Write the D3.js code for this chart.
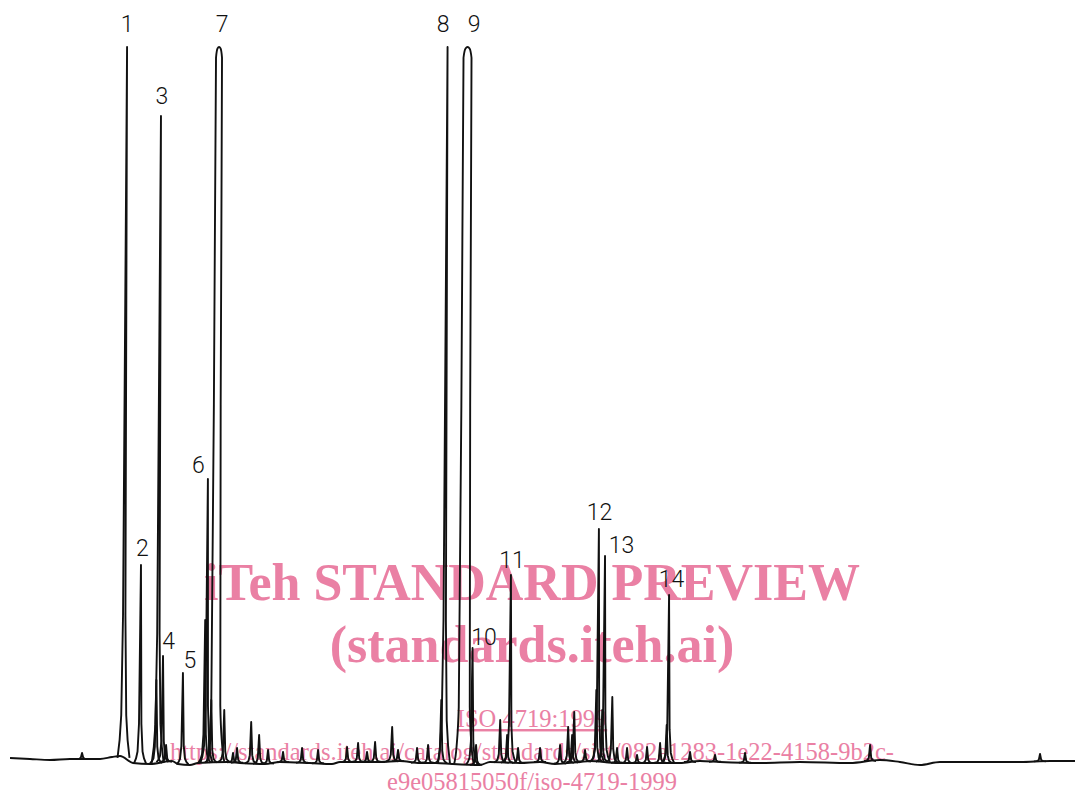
<!DOCTYPE html>
<html>
<head>
<meta charset="utf-8">
<script src="https://cdn.jsdelivr.net/npm/d3@7"></script>
<style>
  body { margin: 0; background: #fff; }
  svg { display: block; }
</style>
</head>
<body>
<svg id="chart" width="1075" height="796"></svg>
<script>
// numbered peaks: retention time (min), apex response, width at full scale (min)
var peakLabels  = ["1", "2", "3", "4", "5", "6", "7", "8", "9", "10", "11", "12", "13", "14"];
var peakTimes   = [4.94, 5.60, 6.31, 6.50, 7.30, 8.26, 8.62, 17.76, 18.56, 18.88, 20.40, 23.91, 24.16, 26.73];
var peakHeights = [71.3, 19.5, 64.4, 10.4, 8.7, 28.1, 71.3, 71.3, 71.3, 11.2, 18.5, 23.1, 20.4, 16.5];
var peakWidths  = [0, 0, 0, 0, 0, 0, 0.24, 0, 0.32, 0, 0, 0, 0, 0];

// small unnumbered peaks
var minorTimes   = [3.28, 6.24, 6.64, 8.18, 8.44, 8.96, 9.32, 9.48, 10.04, 10.36, 10.72, 11.32, 12.08, 12.72,
                    13.88, 14.32, 14.68, 15.00, 15.68, 15.92, 16.68, 17.12, 17.64, 19.04, 20.00, 20.28,
                    20.72, 21.60, 22.40, 22.72, 22.88, 22.96, 23.40, 23.84, 24.08, 24.48, 24.68, 25.08,
                    25.48, 25.88, 26.40, 26.66, 27.60, 28.60, 29.80, 34.80, 41.60];
var minorHeights = [0.7, 8.0, 1.5, 14.0, 6.0, 5.0, 0.7, 1.2, 3.8, 2.5, 1.0, 0.8, 1.2, 1.0,
                    1.3, 1.7, 0.8, 1.8, 3.3, 1.0, 1.2, 1.5, 6.0, 1.5, 4.0, 2.5,
                    1.2, 1.2, 1.5, 3.3, 2.5, 4.8, 1.0, 7.0, 5.0, 6.3, 1.2, 1.2,
                    0.5, 1.3, 1.7, 3.5, 0.8, 0.5, 0.7, 1.5, 0.6];

// baseline drift
var baseTimes  = [0.40, 1.20, 2.00, 2.80, 4.00, 4.48, 4.80, 5.32, 6.00, 6.88, 7.12, 7.60, 7.92, 9.12, 9.60,
                  10.60, 11.20, 12.40, 13.28, 13.60, 15.20, 16.00, 16.80, 17.44, 18.08, 19.20, 19.60, 20.80,
                  21.60, 22.20, 23.20, 23.60, 24.72, 25.60, 27.20, 28.00, 28.80, 30.40, 32.00, 34.00, 35.20,
                  36.00, 36.80, 37.60, 39.20, 40.80, 42.00, 43.00];
var baseLevels = [0.2, 0.1, 0.0, 0.1, 0.1, 0.3, 0.4, -0.3, -0.4, -0.1, -0.4, -0.5, -0.3, -0.2, -0.3,
                  -0.4, -0.2, -0.3, -0.4, -0.2, -0.2, -0.1, -0.3, -0.3, -0.4, -0.5, -0.2, -0.3,
                  -0.2, -0.4, -0.2, -0.1, -0.3, -0.3, -0.3, -0.1, -0.2, -0.3, -0.2, -0.3, 0.0,
                  -0.2, -0.5, -0.2, -0.2, -0.2, -0.1, -0.1];

var watermarkLines = ["iTeh STANDARD PREVIEW", "(standards.iteh.ai)", "ISO 4719:1999",
                      "https://standards.iteh.ai/catalog/standards/sist/082a1283-1e22-4158-9b2c-",
                      "e9e05815050f/iso-4719-1999"];

// ---- layout ----
var width = 1075, height = 796;
var lean = 0.005;          // recorder pen arc
var ink = "#111";
var pink = "#ea80a4";

// label offsets from peak apex, px
var labelOffset = {
  "1": [0, -15], "2": [1.5, -9], "3": [1, -12], "4": [5.5, -7], "5": [7, -5],
  "6": [-9.5, -6], "7": [3, -15], "8": [-4.5, -15], "9": [6.5, -15], "10": [11.5, -3],
  "11": [1, -7], "12": [0.5, -9], "13": [16.5, -3], "14": [2.5, -8]
};

var svg = d3.select("#chart");
svg.append("rect").attr("width", width).attr("height", height).attr("fill", "#fff");

var x = d3.scaleLinear().domain([0, 43]).range([0, width]);
var y = d3.scaleLinear().domain([0, 76]).range([760, 0]);
var baseAt = d3.scaleLinear().domain(baseTimes).range(baseLevels).clamp(true);

// watermark (under the trace)
var wm = svg.append("g")
  .attr("fill", pink)
  .attr("text-anchor", "middle")
  .attr("font-family", "'Liberation Serif', 'Times New Roman', serif");
var wmY = [600, 662, 727, 760, 790];
var wmSize = [52, 52, 24.5, 24.5, 24.5];
wm.selectAll("text")
  .data(watermarkLines)
  .enter().append("text")
  .attr("x", 532)
  .attr("y", function (d, i) { return wmY[i]; })
  .attr("font-size", function (d, i) { return wmSize[i]; })
  .attr("font-weight", function (d, i) { return i < 2 ? "bold" : "normal"; })
  .attr("text-decoration", function (d, i) { return i === 2 ? "underline" : null; })
  .text(function (d) { return d; });

var trace = svg.append("g")
  .attr("transform", "translate(" + (lean * 760) + ",0) skewX(" + (-Math.atan(lean) * 180 / Math.PI) + ")")
  .attr("fill", "none")
  .attr("stroke", ink)
  .attr("stroke-width", 1.9)
  .attr("stroke-linejoin", "round");

// baseline
var baseLine = d3.line()
  .x(function (d) { return x(d[0]); })
  .y(function (d) { return y(d[1]); })
  .curve(d3.curveMonotoneX);
trace.append("path").attr("d", baseLine(d3.zip(baseTimes, baseLevels)));

// peak outline
var spikeDx = [-6, -4, -2.5, -1.2, -0.45, 0, 0.45, 1.2, 2.5, 4, 6];
var spikeF  = [0, 0.025, 0.06, 0.2, 0.7, 1, 0.7, 0.2, 0.06, 0.025, 0];
var pxLine = d3.line().x(function (d) { return d[0]; }).y(function (d) { return d[1]; });
var roundLine = d3.line().x(function (d) { return d[0]; }).y(function (d) { return d[1]; }).curve(d3.curveMonotoneX);

function peakPath(t, h, w) {
  var cx = x(t), b = baseAt(t);
  if (!w) {
    return pxLine(spikeDx.map(function (dx, i) {
      return [cx + dx, y(b + spikeF[i] * (h - b))];
    }));
  }
  var W = (x(t + w / 2) - x(t - w / 2)) / 2;
  var dxs = [-W - 6, -W - 3.5, -W - 1.5, -W - 0.4, -W, -W * 0.5, 0, W * 0.5, W, W + 0.4, W + 1.5, W + 3.5, W + 6];
  var fs  = [0, 0.025, 0.08, 0.5, 0.985, 0.998, 1, 0.998, 0.985, 0.5, 0.08, 0.025, 0];
  return roundLine(dxs.map(function (dx, i) { return [cx + dx, y(b + fs[i] * (h - b))]; }));
}

trace.selectAll("path.minor")
  .data(d3.zip(minorTimes, minorHeights))
  .enter().append("path")
  .attr("class", "minor")
  .attr("d", function (d) { return peakPath(d[0], d[1], 0); });

trace.selectAll("path.peak")
  .data(d3.zip(peakTimes, peakHeights, peakWidths))
  .enter().append("path")
  .attr("class", "peak")
  .attr("d", function (d) { return peakPath(d[0], d[1], d[2]); });

// peak numbers
svg.selectAll("text.num")
  .data(peakLabels)
  .enter().append("text")
  .attr("class", "num")
  .attr("x", function (d, i) {
    var top = y(peakHeights[i]);
    return x(peakTimes[i]) + lean * (760 - top) + labelOffset[d][0];
  })
  .attr("y", function (d, i) { return y(peakHeights[i]) + labelOffset[d][1]; })
  .attr("text-anchor", "middle")
  .attr("font-family", "Roboto, 'Liberation Sans', sans-serif")
  .attr("font-weight", 300)
  .attr("font-size", 23)
  .attr("fill", ink)
  .text(function (d) { return d; });
</script>
</body>
</html>
